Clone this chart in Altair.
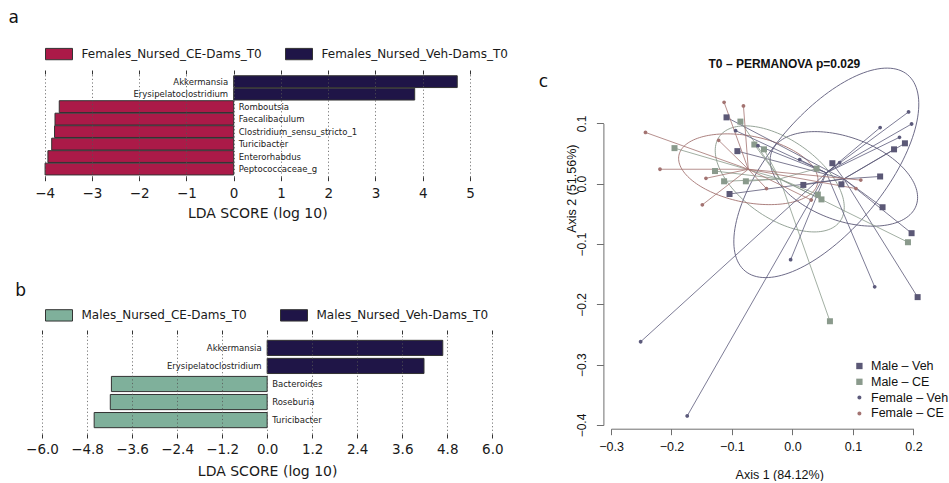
import altair as alt
import numpy as np
import pandas as pd

BAR_FONT = "DejaVu Sans"
ORD_FONT = "Liberation Sans"

# ---------------- a: LEfSe, females ----------------
fem_taxa = ["Akkermansia", "Erysipelatoclostridium", "Romboutsia", "Faecalibaculum",
            "Clostridium_sensu_stricto_1", "Turicibacter", "Enterorhabdus", "Peptococcaceae_g"]
fem_lda = [4.73, 3.83, -3.69, -3.78, -3.79, -3.85, -3.93, -3.99]
fem_groups = ["Females_Nursed_CE-Dams_T0", "Females_Nursed_Veh-Dams_T0"]
fem_colors = ["#ab1a48", "#1f1547"]
fem_ticks = [-4, -3, -2, -1, 0, 1, 2, 3, 4, 5]

# ---------------- b: LEfSe, males ----------------
male_taxa = ["Akkermansia", "Erysipelatoclostridium", "Bacteroides", "Roseburia", "Turicibacter"]
male_lda = [4.68, 4.18, -4.15, -4.18, -4.61]
male_groups = ["Males_Nursed_CE-Dams_T0", "Males_Nursed_Veh-Dams_T0"]
male_colors = ["#7fb09b", "#1f1547"]
male_ticks = [-6.0, -4.8, -3.6, -2.4, -1.2, 0.0, 1.2, 2.4, 3.6, 4.8, 6.0]

# ---------------- c: PCoA ----------------
pc_groups = ["Male – Veh", "Male – CE", "Female – Veh", "Female – CE"]
pc_colors = ["#5b5876", "#8a9a8c", "#5c5a7b", "#a37371"]

male_veh_x = [-0.109, -0.091, -0.104, 0.018, 0.066, 0.081, 0.145, 0.168, 0.186, 0.149, 0.197, 0.207]
male_veh_y = [0.110, 0.054, -0.017, -0.002, 0.034, -0.001, 0.012, 0.057, 0.067, -0.039, -0.082, -0.188]
male_ce_x = [-0.086, -0.195, -0.063, -0.047, -0.128, -0.113, -0.077, 0.040, 0.042, 0.048, 0.191, 0.062]
male_ce_y = [0.103, 0.059, 0.065, 0.057, 0.021, 0.004, 0.004, 0.025, -0.018, -0.026, -0.097, -0.228]
fem_veh_x = [-0.094, -0.057, 0.012, 0.078, 0.145, 0.192, 0.197, 0.177, -0.003, 0.136, -0.251, -0.174]
fem_veh_y = [0.088, 0.063, 0.040, 0.035, 0.093, 0.119, 0.099, 0.077, -0.126, -0.171, -0.262, -0.385]
fem_ce_x = [-0.113, -0.081, -0.243, -0.122, -0.219, -0.143, -0.149, -0.043, 0.113, 0.105, 0.031]
fem_ce_y = [0.135, 0.129, 0.085, 0.072, 0.024, 0.009, -0.035, -0.008, 0.006, -0.008, -0.027]

# group centroids (spider hubs)
cent_x = [0.085, -0.021, 0.056, -0.073]
cent_y = [0.008, 0.008, 0.018, 0.024]
# dispersion ellipses: semi-axes and rotation (degrees)
ell_a = [0.1275, 0.122, 0.211, 0.117]
ell_b = [0.069, 0.065, 0.095, 0.055]
ell_deg = [-20.3, -35.0, 50.5, -11.4]

pc_xticks = [-0.3, -0.2, -0.1, 0.0, 0.1, 0.2]
pc_yticks = [-0.4, -0.3, -0.2, -0.1, 0.0, 0.1]

SWATCH = "M-1,-0.42H1V0.42H-1Z"
SQUARE = "M-1,-1H1V1H-1Z"
DOT = "M0.63,0A0.63,0.63,0,1,1,-0.63,0A0.63,0.63,0,1,1,0.63,0Z"


def letter_layer(letter, lx, ly):
    return alt.Chart(pd.DataFrame({"t": [letter]})).mark_text(
        align="left", baseline="alphabetic", font=BAR_FONT, fontSize=17, color="#111111"
    ).encode(text="t:N", x=alt.value(lx), y=alt.value(ly))


def pin(px, py):
    # invisible zero-size marker that fixes the extent of a panel's bounds
    return alt.Chart(pd.DataFrame({"t": [0]})).mark_rule(strokeOpacity=0, strokeWidth=0).encode(
        x=alt.value(px), x2=alt.value(px), y=alt.value(py), y2=alt.value(py + 1))


def lefse_panel(taxa, lda, groups, colors, ticks, fmt, domain, x_range,
                pad_inner, pad_outer, legend_y, col_pad, label_pad, title_pad, letter, lx, ly):
    df = pd.DataFrame({"taxon": taxa, "lda": lda,
                       "group": [groups[1] if v > 0 else groups[0] for v in lda]})
    xscale = alt.Scale(domain=domain, range=x_range, nice=False, zero=False)
    yenc = alt.Y("taxon:N", sort=taxa, axis=None,
                 scale=alt.Scale(paddingInner=pad_inner, paddingOuter=pad_outer))
    base = alt.Chart(df)

    bottom_axis = alt.Axis(
        orient="bottom", values=ticks, format=fmt, grid=True, gridColor="#555555",
        gridDash=[1.2, 2.4], gridWidth=0.8, zindex=1, domain=False,
        tickColor="#333333", tickSize=4, tickWidth=1,
        labelFont=BAR_FONT, labelFontSize=13.5, labelColor="#1a1a1a", labelPadding=label_pad,
        labelFlush=False, labelOverlap=False,
        title="LDA SCORE (log 10)", titleFont=BAR_FONT, titleFontSize=14,
        titleFontWeight="normal", titleColor="#1a1a1a", titlePadding=title_pad)
    legend = alt.Legend(
        orient="none", legendX=3.0, legendY=legend_y, direction="horizontal", title=None,
        symbolType=SWATCH, symbolSize=729, symbolStrokeColor="#333333", symbolStrokeWidth=1,
        labelFont=BAR_FONT, labelFontSize=12, labelColor="#1a1a1a", labelOffset=8.5,
        columnPadding=col_pad, padding=0, labelLimit=400)

    bars = base.mark_bar(stroke="#333333", strokeWidth=1).encode(
        x=alt.X("lda:Q", scale=xscale, axis=bottom_axis),
        x2=alt.datum(0),
        y=yenc,
        color=alt.Color("group:N", scale=alt.Scale(domain=groups, range=colors), legend=legend),
    )
    top_ticks = base.mark_point(opacity=0).encode(
        x=alt.X("lda:Q", scale=xscale,
                axis=alt.Axis(orient="top", values=ticks, labels=False, domain=False,
                              grid=False, tickColor="#333333", tickSize=4, title=None)),
        y=yenc,
    )
    lab_pos = base.transform_filter("datum.lda > 0").mark_text(
        align="right", baseline="middle", dx=-5.5, font=BAR_FONT, fontSize=8.5, color="#222222"
    ).encode(x=alt.XDatum(0, type="quantitative", axis=None), y=yenc, text="taxon:N")
    lab_neg = base.transform_filter("datum.lda < 0").mark_text(
        align="left", baseline="middle", dx=5, font=BAR_FONT, fontSize=8.5, color="#222222"
    ).encode(x=alt.XDatum(0, type="quantitative", axis=None), y=yenc, text="taxon:N")

    return [bars, top_ticks, lab_pos, lab_neg, letter_layer(letter, lx, ly)]


layers_a = lefse_panel(fem_taxa, fem_lda, fem_groups, fem_colors, fem_ticks, "d",
                       [-4, 5], [2.6, 428], 0.054, 0.14, -34.1, 21, 6, 6, "a", -33.4, -50.6)
panel_a = alt.layer(*layers_a, pin(-41.7, -73.3)).resolve_axis(x="independent").properties(
    width=428, height=102.7)

layers_b = lefse_panel(male_taxa, male_lda, male_groups, male_colors, male_ticks, ".1f",
                       [-6, 6], [0, 450.3], 0.16, 0.35, -32.8, 31, 4, 9, "b", -26.7, -38)
panel_b = alt.layer(*layers_b, pin(478.3, 0)).resolve_axis(x="independent").properties(
    width=450.3, height=100)

# ---------------- PCoA tables ----------------
pts = pd.concat([
    pd.DataFrame({"x": male_veh_x, "y": male_veh_y, "group": pc_groups[0]}),
    pd.DataFrame({"x": male_ce_x, "y": male_ce_y, "group": pc_groups[1]}),
    pd.DataFrame({"x": fem_veh_x, "y": fem_veh_y, "group": pc_groups[2]}),
    pd.DataFrame({"x": fem_ce_x, "y": fem_ce_y, "group": pc_groups[3]}),
], ignore_index=True)
cmap = {g: (cx, cy) for g, cx, cy in zip(pc_groups, cent_x, cent_y)}
pts["cx"] = [cmap[g][0] for g in pts["group"]]
pts["cy"] = [cmap[g][1] for g in pts["group"]]

t = np.linspace(0, 2 * np.pi, 145)
ell_rows = []
for g, cx, cy, a, b, d in zip(pc_groups, cent_x, cent_y, ell_a, ell_b, ell_deg):
    th = np.deg2rad(d)
    ex = cx + a * np.cos(t) * np.cos(th) - b * np.sin(t) * np.sin(th)
    ey = cy + a * np.cos(t) * np.sin(th) + b * np.sin(t) * np.cos(th)
    ell_rows.append(pd.DataFrame({"x": ex, "y": ey, "i": np.arange(len(t)), "group": g}))
ell = pd.concat(ell_rows, ignore_index=True)

W_C, H_C = 302.4, 351
xscale_c = alt.Scale(domain=[-0.3, 0.2], nice=False, zero=False)
yscale_c = alt.Scale(domain=[-0.4, 0.1], range=[H_C, 49.4], nice=False, zero=False)
xaxis_c = alt.Axis(values=pc_xticks, format=".1f", offset=3.7, domainColor="#6e6e6e",
                   tickColor="#6e6e6e", tickSize=6, grid=False, labelFont=ORD_FONT,
                   labelFontSize=12.5, labelColor="#111111", labelPadding=6,
                   labelFlush=False, labelOverlap=False,
                   title="Axis 1 (84.12%)", titleFont=ORD_FONT, titleFontSize=12.5,
                   titleFontWeight="normal", titleColor="#111111", titleX=168.2, titleY=45.3,
                   titleAlign="center", titleBaseline="middle")
yaxis_c = alt.Axis(values=pc_yticks, format=".1f", offset=7.6, domainColor="#6e6e6e",
                   tickColor="#6e6e6e", tickSize=7, grid=False, labelFont=ORD_FONT,
                   labelFontSize=12, labelColor="#111111", labelPadding=8, labelAngle=270,
                   labelAlign="center", labelBaseline="bottom",
                   labelFlush=False, labelOverlap=False,
                   title="Axis 2 (51.56%)", titleFont=ORD_FONT, titleFontSize=12.5,
                   titleFontWeight="normal", titleColor="#111111", titleAngle=270,
                   titleX=-31.5, titleY=114.2, titleAlign="center", titleBaseline="middle")
xc = alt.X("x:Q", scale=xscale_c, axis=xaxis_c)
yc_axis = alt.Y("y:Q", scale=yscale_c, axis=yaxis_c)
yc = alt.Y("y:Q", scale=yscale_c, axis=None)
color_c = alt.Color("group:N", scale=alt.Scale(domain=pc_groups, range=pc_colors), legend=None)
shape_c = alt.Shape("group:N", scale=alt.Scale(domain=pc_groups, range=[SQUARE, SQUARE, DOT, DOT]),
                    legend=None)

ellipses = alt.Chart(ell).mark_line(strokeWidth=0.9).encode(
    x=xc, y=yc_axis, order="i:Q", detail="group:N", color=color_c)
spiders = alt.Chart(pts).mark_rule(strokeWidth=0.8).encode(
    x=xc, y=yc, x2="cx:Q", y2="cy:Q", color=color_c)
points = alt.Chart(pts).mark_point(filled=True, opacity=1, size=36, strokeWidth=0).encode(
    x=xc, y=yc, color=color_c, shape=shape_c)

# key in the lower right: one row per group
key_df = pd.DataFrame({"group": pc_groups})
key_y = alt.Y("group:N", axis=None,
              scale=alt.Scale(type="point", domain=pc_groups, range=[292, 339.4], padding=0))
key_sym = alt.Chart(key_df).mark_point(filled=True, opacity=1, size=40, strokeWidth=0).encode(
    x=alt.value(248.4), y=key_y, color=color_c, shape=shape_c)
key_txt = alt.Chart(key_df).mark_text(
    align="left", baseline="middle", font=ORD_FONT, fontSize=12.5, color="#111111"
).encode(x=alt.value(260), y=key_y, text="group:N")

pc_title = alt.Chart(pd.DataFrame({"t": ["T0 – PERMANOVA p=0.029"]})).mark_text(
    align="center", baseline="alphabetic", font=ORD_FONT, fontSize=12, fontWeight="bold",
    color="#111111").encode(text="t:N", x=alt.value(173.4), y=alt.value(-6))

panel_c = alt.layer(ellipses, spiders, points, key_sym, key_txt, pc_title,
                    letter_layer("c", -72.3, 12.7), pin(-79.3, -73.3)).resolve_scale(
    y="independent").properties(width=W_C, height=H_C)

left = alt.vconcat(panel_a, panel_b, spacing=157, bounds="flush").resolve_scale(
    color="independent")
chart = alt.hconcat(left, panel_c, spacing=10, bounds="full").resolve_scale(
    color="independent", shape="independent").properties(
    padding=0, background="white").configure_view(strokeWidth=0)

chart.save("out.html", embed_options={"renderer": "svg", "actions": False})
